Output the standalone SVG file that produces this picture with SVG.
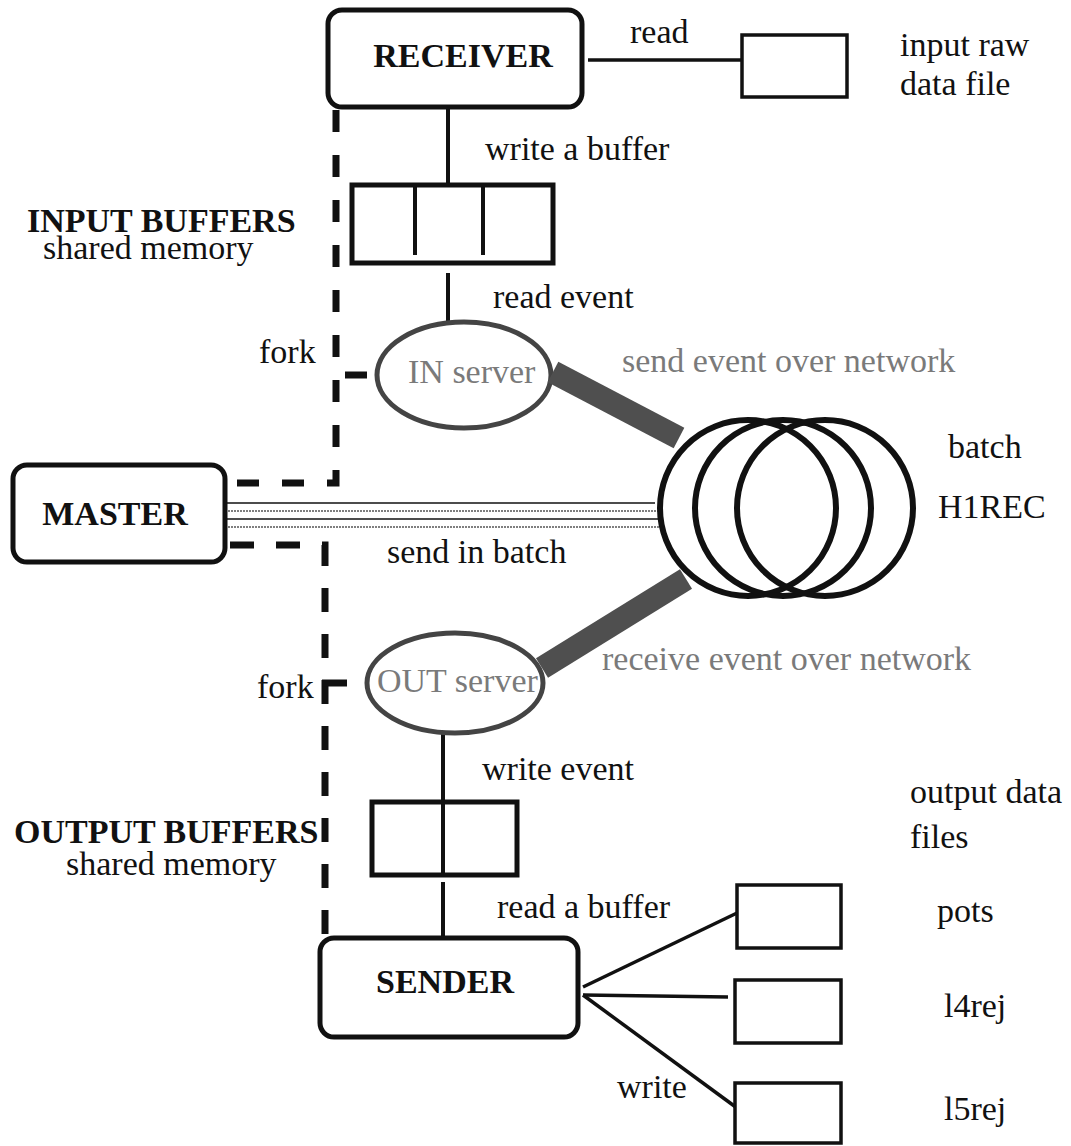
<svg xmlns="http://www.w3.org/2000/svg" width="1071" height="1146" viewBox="0 0 1071 1146">
<style>
text{font-family:"Liberation Serif","Times New Roman",serif;font-size:34px;fill:#111}
.b{font-weight:bold}
.m{text-anchor:middle}
.g{fill:#7a7a7a}
.box{fill:#fff;stroke:#111;stroke-width:5}
.buf{fill:#fff;stroke:#111;stroke-width:5}
.file{fill:#fff;stroke:#111;stroke-width:3.5}
.srv{fill:#fff;stroke:#444;stroke-width:5}
.ring{fill:none;stroke:#111;stroke-width:6}
.ln{stroke:#111;stroke-width:4;fill:none}
.thin{stroke:#111;stroke-width:3.5;fill:none}
.dash{stroke:#111;stroke-width:7;fill:none}
.net{stroke:#4f4f4f;stroke-width:23;stroke-linecap:butt}
.bl{stroke:#111;stroke-width:1.6}
.bd{stroke:#555;stroke-width:1.6;stroke-dasharray:2 1}
</style>
<g id="connectors">
  <line class="thin" x1="588" y1="60" x2="742" y2="60"/>
  <line class="ln" x1="448" y1="107" x2="448" y2="185"/>
  <line class="ln" x1="448" y1="273" x2="448" y2="322"/>
  <line class="ln" x1="443" y1="733" x2="443" y2="802"/>
  <line class="ln" x1="443" y1="882" x2="443" y2="938"/>
  <line class="thin" x1="583" y1="987" x2="737" y2="913"/>
  <line class="thin" x1="583" y1="995" x2="728" y2="997"/>
  <line class="thin" x1="583" y1="995" x2="737" y2="1108"/>
  <path class="dash" d="M336,110 V483 H228" stroke-dasharray="22 23"/>
  <path class="dash" d="M230,545 H325 V936" stroke-dasharray="24 22"/>
  <line class="dash" x1="345" y1="375" x2="367" y2="375"/>
  <line class="dash" x1="322" y1="683" x2="347" y2="683"/>
  <line class="bl" x1="225" y1="503" x2="655" y2="503"/>
  <line class="bd" x1="228" y1="511" x2="658" y2="511"/>
  <line class="bl" x1="225" y1="519" x2="660" y2="519"/>
  <line class="bd" x1="228" y1="527" x2="662" y2="527"/>
</g>
<g id="receiver">
  <rect class="box" x="328" y="10" width="254" height="97" rx="14"/>
  <text class="b m" x="463" y="67">RECEIVER</text>
</g>
<g id="input-raw-file">
  <rect class="file" x="742" y="35" width="105" height="62"/>
</g>
<g id="input-buffers">
  <rect class="buf" x="352" y="185" width="201" height="78"/>
  <line class="ln" x1="415" y1="185" x2="415" y2="255" stroke-width="5"/>
  <line class="ln" x1="483" y1="185" x2="483" y2="255" stroke-width="5"/>
</g>
<g id="in-server">
  <ellipse class="srv" cx="464" cy="375" rx="87" ry="53"/>
  <text class="g" x="408" y="383">IN server</text>
</g>
<g id="master">
  <rect class="box" x="13" y="465" width="212" height="97" rx="14"/>
  <text class="b m" x="115" y="525">MASTER</text>
</g>
<g id="batch">
  <circle class="ring" cx="748" cy="508" r="88"/>
  <circle class="ring" cx="783" cy="508" r="88"/>
  <circle class="ring" cx="825" cy="508" r="88"/>
</g>
<g id="out-server">
  <ellipse class="srv" cx="455" cy="683" rx="88" ry="50"/>
  <text class="g" x="377" y="692">OUT server</text>
</g>
<g id="network">
  <line class="net" x1="553" y1="372" x2="679" y2="438"/>
  <line class="net" x1="542" y1="668" x2="686" y2="579"/>
</g>
<g id="output-buffers">
  <rect class="buf" x="372" y="802" width="145" height="73"/>
  <line class="ln" x1="443" y1="802" x2="443" y2="875" stroke-width="5"/>
</g>
<g id="sender">
  <rect class="box" x="320" y="938" width="258" height="99" rx="14"/>
  <text class="b m" x="445" y="993">SENDER</text>
</g>
<g id="output-files">
  <rect class="file" x="737" y="885" width="104" height="63"/>
  <rect class="file" x="735" y="980" width="106" height="63"/>
  <rect class="file" x="735" y="1083" width="106" height="60"/>
</g>
<g id="labels">
  <text x="630" y="43">read</text>
  <text x="900" y="56">input raw</text>
  <text x="900" y="95">data file</text>
  <text x="485" y="160">write a buffer</text>
  <text class="b" x="27" y="232">INPUT BUFFERS</text>
  <text x="43" y="259">shared memory</text>
  <text x="493" y="308">read event</text>
  <text x="259" y="363">fork</text>
  <text class="g" x="622" y="372">send event over network</text>
  <text x="948" y="458">batch</text>
  <text x="938" y="518">H1REC</text>
  <text x="387" y="563">send in batch</text>
  <text class="g" x="602" y="670">receive event over network</text>
  <text x="257" y="698">fork</text>
  <text x="482" y="780">write event</text>
  <text x="910" y="803">output data</text>
  <text x="910" y="848">files</text>
  <text class="b" x="14" y="843">OUTPUT BUFFERS</text>
  <text x="66" y="875">shared memory</text>
  <text x="497" y="918">read a buffer</text>
  <text x="937" y="922">pots</text>
  <text x="944" y="1017">l4rej</text>
  <text x="617" y="1098">write</text>
  <text x="944" y="1120">l5rej</text>
</g>
</svg>
